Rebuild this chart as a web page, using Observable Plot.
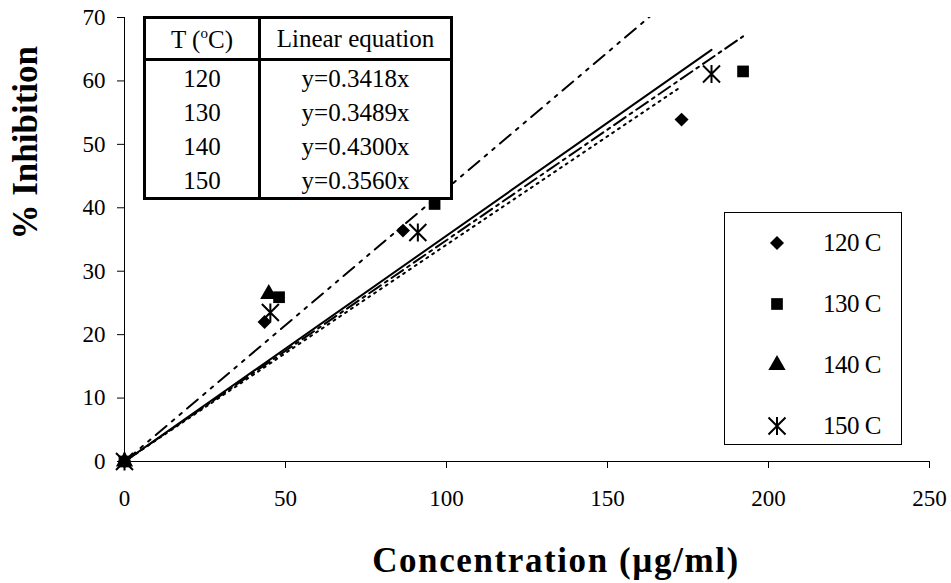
<!DOCTYPE html>
<html>
<head>
<meta charset="utf-8">
<script src="https://cdn.jsdelivr.net/npm/d3@7"></script>
<script src="https://cdn.jsdelivr.net/npm/@observablehq/plot@0.6"></script>
<style>
  html, body { margin: 0; padding: 0; background: #fff; }
  #wrap { position: relative; width: 951px; height: 583px; font-family: "Liberation Serif", "Times New Roman", serif; color: #000; }
  #wrap svg.plot { position: absolute; left: 0; top: 0; }
  #eqtable { position: absolute; left: 143px; top: 16px; width: 310px; height: 184px; box-sizing: border-box;
    border: 3px solid #000; background: #fff; border-collapse: collapse; font-size: 25px; }
  #eqtable td { border: 3px solid #000; text-align: center; padding: 0; line-height: 1; }
  #eqtable tr.body td { border-top: none; border-bottom: none; height: 34px; }
  #eqtable tr.head td { height: 39px; }
  #eqtable sup { font-size: 15px; vertical-align: 10px; }
  #legend { position: absolute; left: 724px; top: 212px; width: 178px; height: 233px; box-sizing: border-box;
    border: 1px solid #000; background: #fff; font-size: 25px; }
  #legend .row { position: absolute; left: 0; height: 30px; width: 176px; }
  #legend .row svg { position: absolute; left: 37px; top: 0; }
  #legend .row span { position: absolute; left: 98px; top: 1px; line-height: 28px; letter-spacing: -0.5px; }
</style>
</head>
<body>
<div id="wrap"></div>
<script>
// ---------- data ----------
const seriesNames = ["120 C", "130 C", "140 C", "150 C"];
const temps = [120, 130, 140, 150];
const equations = ["y=0.3418x", "y=0.3489x", "y=0.4300x", "y=0.3560x"];
const slopes = [0.3418, 0.3489, 0.4300, 0.3560];
const fitMaxX = [173, 192.1, 180, 182.3];

const conc120 = [0, 43.5, 86.5, 173.0];
const inh120  = [0, 22.0, 36.4, 53.9];
const conc130 = [0, 48.0, 96.3, 192.1];
const inh130  = [0, 25.9, 40.6, 61.5];
const conc140 = [0, 44.8];
const inh140  = [0, 26.4];
const conc150 = [0, 45.3, 91.1, 182.3];
const inh150  = [0, 23.5, 36.1, 61.1];

const xTicks = [0, 50, 100, 150, 200, 250];
const yTicks = [0, 10, 20, 30, 40, 50, 60, 70];
const xTitle = "Concentration (\u00b5g/ml)";
const yTitle = "% Inhibition";

// ---------- build ----------
const starSymbol = {
  draw(ctx, size) {
    const s = Math.sqrt(size) * 0.8;
    ctx.moveTo(-s, -s); ctx.lineTo(s, s);
    ctx.moveTo(s, -s); ctx.lineTo(-s, s);
    ctx.moveTo(0, -s * 1.05); ctx.lineTo(0, s * 1.05);
  }
};
const symbols = ["diamond2", "square", "triangle", starSymbol];
const radii = [6.3, 6.6, 6.4, 6];
const dashes = ["2,5", "14,5,3,5", "14,7,3,7,3,7", null];

const concs = [conc120, conc130, conc140, conc150];
const inhs = [inh120, inh130, inh140, inh150];
const points = concs.map((c, i) => c.map((x, j) => ({x, y: inhs[i][j]})));
const fits = slopes.map((m, i) => [{x: 0, y: 0}, {x: fitMaxX[i], y: m * fitMaxX[i]}]);

const marks = [];
fits.forEach((f, i) => {
  marks.push(Plot.line(f, {x: "x", y: "y", stroke: "#000", strokeWidth: 2,
    strokeDasharray: dashes[i] || undefined, clip: true}));
});
points.forEach((p, i) => {
  const isStar = i === 3;
  marks.push(Plot.dot(p, {x: "x", y: "y", symbol: symbols[i], r: radii[i],
    fill: isStar ? "none" : "#000", stroke: "#000", strokeWidth: isStar ? 2 : 0}));
});
marks.push(Plot.ruleY([0], {stroke: "#000", strokeWidth: 1}));
marks.push(Plot.ruleX([0], {stroke: "#000", strokeWidth: 1}));
marks.push(Plot.axisX({ticks: xTicks, tickSize: 7, tickPadding: 21, fontSize: 23, label: null, tickFormat: d => d}));
marks.push(Plot.axisY({ticks: yTicks, tickSize: 7, tickPadding: 12, fontSize: 23, label: null, tickFormat: d => d}));
marks.push(Plot.text([xTitle], {text: d => d, frameAnchor: "bottom", dx: 29, dy: 99, lineAnchor: "middle",
  fontSize: 35, fontWeight: "bold", fill: "#000"}));
marks.push(Plot.text([yTitle], {text: d => d, frameAnchor: "left", dx: -99, dy: 0, rotate: -90, lineAnchor: "middle",
  fontSize: 35, fontWeight: "bold", fill: "#000"}));

const chart = Plot.plot({
  width: 951, height: 583,
  marginLeft: 124, marginRight: 22, marginTop: 17, marginBottom: 122,
  x: {domain: [0, 250]},
  y: {domain: [0, 70]},
  style: {fontFamily: "Liberation Serif, Times New Roman, serif", color: "#000", background: "transparent", overflow: "visible"},
  marks
});
const sel = d3.select(chart);
sel.selectAll("text").filter(function() { return this.textContent === xTitle; })
  .attr("letter-spacing", "1.6px");
sel.selectAll('g[aria-label="x-axis tick label"], g[aria-label="y-axis tick label"]')
  .attr("font-size", 23).style("font-size", "23px");
sel.selectAll('g[aria-label="x-axis tick label"] text, g[aria-label="y-axis tick label"] text')
  .style("font-size", "23px");
const wrap = document.getElementById("wrap");
wrap.appendChild(chart);

// equation table
const table = document.createElement("table");
table.id = "eqtable";
const head = document.createElement("tr");
head.className = "head";
head.innerHTML = '<td style="width:112px">T (<sup>o</sup>C)</td><td>Linear equation</td>';
table.appendChild(head);
temps.forEach((t, i) => {
  const tr = document.createElement("tr");
  tr.className = "body";
  const a = document.createElement("td"); a.textContent = t;
  const b = document.createElement("td"); b.textContent = equations[i];
  tr.appendChild(a); tr.appendChild(b);
  table.appendChild(tr);
});
wrap.appendChild(table);

// legend
const legend = document.createElement("div");
legend.id = "legend";
seriesNames.forEach((name, i) => {
  const row = document.createElement("div");
  row.className = "row";
  row.style.top = (15 + i * 61) + "px";
  const svg = d3.create("svg").attr("width", 30).attr("height", 30);
  const sym = typeof symbols[i] === "string"
    ? {diamond2: d3.symbolDiamond2, square: d3.symbolSquare, triangle: d3.symbolTriangle}[symbols[i]]
    : symbols[i];
  const size = Math.PI * radii[i] * radii[i];
  svg.append("path").attr("transform", "translate(15,15)")
    .attr("d", d3.symbol(sym, size)())
    .attr("fill", i === 3 ? "none" : "#000")
    .attr("stroke", "#000").attr("stroke-width", i === 3 ? 2 : 0);
  row.appendChild(svg.node());
  const sp = document.createElement("span");
  sp.textContent = name;
  row.appendChild(sp);
  legend.appendChild(row);
});
wrap.appendChild(legend);
</script>
</body>
</html>
